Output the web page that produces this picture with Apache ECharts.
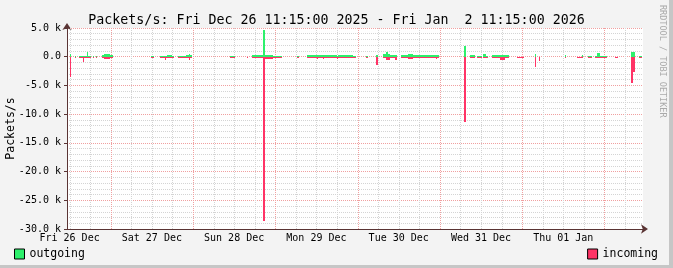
<!DOCTYPE html>
<html><head><meta charset="utf-8">
<script src="https://cdn.jsdelivr.net/npm/echarts@6/dist/echarts.min.js"></script>
<style>html,body{margin:0;padding:0;background:#f3f3f3;overflow:hidden}#c{width:673px;height:268px}</style>
</head><body><div id="c"></div>
<script>
// ---- data (hours since Fri Dec 26 11:15:00 2025) ----
const titleText = 'Packets/s: Fri Dec 26 11:15:00 2025 - Fri Jan  2 11:15:00 2026';
const dayLabels = ['Fri 26 Dec','Sat 27 Dec','Sun 28 Dec','Mon 29 Dec','Tue 30 Dec','Wed 31 Dec','Thu 01 Jan'];
const dayLabelHours = [0.75, 24.75, 48.75, 72.75, 96.75, 120.75, 144.75];
const midnightHours = [12.75, 36.75, 60.75, 84.75, 108.75, 132.75, 156.75];
const sixHourGridHours = [0.75, 6.75, 18.75, 24.75, 30.75, 42.75, 48.75, 54.75, 66.75, 72.75, 78.75, 90.75, 96.75, 102.75, 114.75, 120.75, 126.75, 138.75, 144.75, 150.75, 162.75];
const yTickValues = [5000, 0, -5000, -10000, -15000, -20000, -25000, -30000];
const seriesNames = ['outgoing', 'incoming'];

const sampleHours = [0.8,1.2,2.3,2.7,3.5,4.6,4.9,5.8,6.1,6.7,7.0,7.5,7.8,8.4,8.8,10.1,10.8,12.5,13.4,24.5,25.4,27.1,28.6,28.9,29.2,30.6,31.2,32.4,34.0,34.7,35.6,35.9,36.4,47.5,49.0,52.4,52.8,54.1,57.1,57.7,60.1,62.7,67.1,67.6,70.0,72.8,73.2,74.7,75.1,78.7,79.0,83.4,84.3,87.2,87.8,90.1,90.7,92.1,93.0,93.6,94.2,95.6,96.2,97.4,99.4,100.9,107.6,107.9,108.5,115.7,116.3,117.5,119.0,119.5,121.0,121.3,122.2,122.7,123.9,126.2,127.7,128.9,131.2,133.2,136.4,136.8,137.6,137.9,145.2,145.5,148.7,150.1,150.5,151.9,153.1,153.9,154.6,155.4,157.4,159.8,160.6,164.4,165.2,165.6,166.8,167.6];
const outgoing = [500,null,150,null,50,50,50,900,100,200,null,150,null,50,null,300,500,350,null,200,null,200,100,150,300,50,null,150,100,350,400,250,null,100,null,0,null,300,4700,350,200,null,200,null,300,300,250,300,300,200,300,100,null,200,null,300,null,400,900,500,300,300,null,300,500,300,250,250,null,1800,null,300,null,200,null,500,50,null,300,300,300,null,0,null,400,null,0,null,350,null,0,300,null,200,null,150,700,200,null,0,null,900,900,null,200,null];
const incoming = [-3600,null,-50,null,-100,-1000,-100,-100,-100,-50,null,-50,null,-300,null,-300,-350,-300,null,-30,null,-150,-600,-150,-150,-150,null,-150,-100,-300,-500,-250,null,-100,null,-100,null,-150,-28600,-350,-200,null,-100,null,-250,-450,-250,-350,-200,-350,-250,-50,null,-50,null,-1500,null,-200,-500,-500,-200,-650,null,-150,-350,-200,-400,-200,null,-11300,null,-100,null,-50,null,-50,-300,null,-150,-650,-300,null,-150,null,-1800,null,-700,null,-300,null,-100,-300,null,-300,null,-100,-100,-100,null,-100,null,-4600,-2700,null,-30,null];

// ---- build ----
const MONO = 'DejaVu Sans Mono';
const GREEN = '#2df06c', RED = '#ff3366';
const AXIS = '#5a3434';
function spans(vals){
  const out = [];
  for (let i = 0; i < sampleHours.length; i++) {
    if (vals[i] == null || vals[i] === 0) continue;
    const end = i + 1 < sampleHours.length ? sampleHours[i+1] : 168;
    out.push([sampleHours[i], end, vals[i]]);
  }
  return out;
}
function renderRect(params, api){
  const a = api.coord([api.value(0), 0]);
  const b = api.coord([api.value(1), api.value(2)]);
  const x0 = Math.round(a[0]), x1 = Math.round(b[0]);
  const y0 = Math.round(a[1]);
  let y1 = Math.round(b[1]);
  if (y1 === y0) y1 = api.value(2) > 0 ? y0 - 1 : y0 + 1;
  return {type:'rect', shape:{x:x0, y:Math.min(y0,y1), width:Math.max(1,x1-x0), height:Math.abs(y1-y0)},
    style:{fill: api.visual('color')}};
}
function renderVLine(color){
  return function(params, api){
    const top = api.coord([api.value(0), 5000]);
    const bot = api.coord([api.value(0), -30000]);
    const x = Math.round(top[0]) + 0.5;
    return {type:'line', shape:{x1:x, y1:top[1], x2:x, y2:bot[1]},
      style:{stroke:color, lineWidth:1, lineDash:[1,1]}};
  };
}
function fmtY(v){
  if (v === 0) return '0.0';
  return (v/1000).toFixed(1) + ' k';
}
const chart = echarts.init(document.getElementById('c'), null, {renderer:'canvas'});
chart.setOption({
  animation:false,
  backgroundColor:'#f3f3f3',
  title:{text:titleText, left:'center', top:9, textStyle:{fontFamily:MONO, fontSize:13.3, fontWeight:'normal', color:'#000'}},
  grid:{left:67, top:28, width:576, height:201, show:true, backgroundColor:'#ffffff', borderWidth:0,
        containLabel:false, outerBoundsMode:'none'},
  legend:[
    {data:[seriesNames[0]], left:14, top:248, padding:0, icon:'rect', itemWidth:10, itemHeight:10,
     itemStyle:{borderColor:'#000', borderWidth:1}, textStyle:{fontFamily:MONO, fontSize:11.5, color:'#000'}, selectedMode:false},
    {data:[seriesNames[1]], right:15, top:248, padding:0, icon:'rect', itemWidth:10, itemHeight:10,
     itemStyle:{borderColor:'#000', borderWidth:1}, textStyle:{fontFamily:MONO, fontSize:11.5, color:'#000'}, selectedMode:false}
  ],
  xAxis:{type:'value', min:0, max:168,
    splitLine:{show:false}, axisTick:{show:false},
    axisLine:{onZero:false, lineStyle:{color:AXIS, width:1}, symbol:['none','arrow'], symbolSize:[7,7], symbolOffset:[0,5]},
    axisLabel:{customValues:dayLabelHours, margin:4, fontFamily:MONO, fontSize:10, color:'#000',
      formatter:function(v){ return dayLabels[Math.round((v-0.75)/24)] || ''; }}
  },
  yAxis:{type:'value', min:-30000, max:5000, interval:5000,
    name:'Packets/s', nameLocation:'middle', nameGap:50, nameRotate:90, nameMoveOverlap:false,
    nameTextStyle:{fontFamily:MONO, fontSize:11.5, color:'#000'},
    axisLine:{show:true, onZero:false, lineStyle:{color:AXIS, width:1}, symbol:['none','arrow'], symbolSize:[7,7], symbolOffset:[0,5]},
    axisTick:{show:true, length:3, lineStyle:{color:AXIS}},
    axisLabel:{margin:6, fontFamily:MONO, fontSize:10, color:'#000', formatter:fmtY, customValues:yTickValues},
    splitLine:{show:true, lineStyle:{color:'#f0a0a0', type:[1,1], width:1}},
    minorTick:{show:false, splitNumber:5},
    minorSplitLine:{show:true, lineStyle:{color:'#d4d4d4', type:[1,1], width:1}}
  },
  series:[
    {type:'custom', name:'minorgrid', z:1, silent:true, renderItem:renderVLine('#d4d4d4'),
     encode:{x:0}, data:sixHourGridHours.map(h=>[h])},
    {type:'custom', name:'majorgrid', z:1, silent:true, renderItem:renderVLine('#f0a0a0'),
     encode:{x:0}, data:midnightHours.map(h=>[h])},
    {type:'custom', name:seriesNames[0], z:3, itemStyle:{color:GREEN}, renderItem:renderRect,
     encode:{x:[0,1], y:2}, data:spans(outgoing)},
    {type:'custom', name:seriesNames[1], z:3, itemStyle:{color:RED}, renderItem:renderRect,
     encode:{x:[0,1], y:2}, data:spans(incoming)}
  ],
  graphic:[
    {type:'rect', shape:{x:669, y:0, width:4, height:268}, style:{fill:'#c6c6c6'}, silent:true},
    {type:'rect', shape:{x:0, y:265, width:673, height:3}, style:{fill:'#c6c6c6'}, silent:true},
    {type:'text', x:667, y:5, rotation:-Math.PI/2, silent:true,
     style:{text:'RRDTOOL / TOBI OETIKER', font:'8.5px "DejaVu Sans Mono"', fill:'#aaaaaa', textAlign:'left', textVerticalAlign:'top'}}
  ]
});
</script></body></html>
